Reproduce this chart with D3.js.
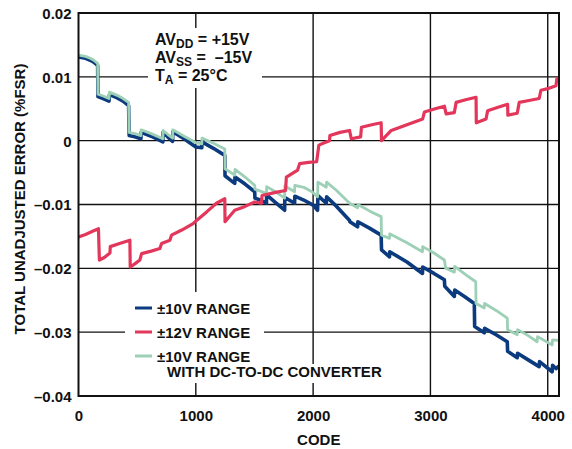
<!DOCTYPE html>
<html><head><meta charset="utf-8">
<script src="https://cdn.jsdelivr.net/npm/d3@7"></script>
<style>
html,body{margin:0;padding:0;background:#fff;}
text{font-family:"Liberation Sans",Arial,Helvetica,sans-serif;font-weight:bold;fill:#111;}
</style></head>
<body><svg id="c" width="572" height="449"></svg>
<script>
const xTicks = [0, 1000, 2000, 3000, 4000];
const yTicks = [0.02, 0.01, 0, -0.01, -0.02, -0.03, -0.04];
const yTickLabels = ["0.02", "0.01", "0", "\u20130.01", "\u20130.02", "\u20130.03", "\u20130.04"];
const legendLabels = ["\u00b110V RANGE", "\u00b112V RANGE", "\u00b110V RANGE"];
const legendExtra = "WITH DC-TO-DC CONVERTER";
const seriesColors = ["#0c3a7e", "#e3365b", "#9dd0b6"];

const range10 = [[0,0.0131],[60,0.0129],[100,0.0126],[130,0.0123],[163,0.0118],
[166,0.0069],[210,0.0066],[260,0.0062],
[264,0.0072],[330,0.0067],[380,0.0062],[427,0.0055],
[432,0.0008],[480,0.0006],[532,0.0003],
[534,0.0013],[620,0.0007],[719,-0.0002],
[721,0.0013],[760,0.0006],[802,-0.0001],
[804,0.0014],[900,0.0003],[1000,-0.0010],[1051,-0.0011],
[1053,-0.0002],[1150,-0.0012],[1247,-0.0023],
[1249,-0.0055],[1290,-0.0061],[1332,-0.0067],
[1334,-0.0057],[1420,-0.0068],[1502,-0.0080],
[1504,-0.0090],[1550,-0.0093],[1602,-0.0098],
[1604,-0.0085],[1680,-0.0097],[1757,-0.0109],
[1759,-0.0089],[1842,-0.0098],
[1844,-0.0087],[1920,-0.0093],[2000,-0.0101],[2038,-0.0109],
[2041,-0.0086],[2112,-0.0098],
[2115,-0.0088],[2200,-0.0103],[2311,-0.0125],
[2313,-0.0127],[2379,-0.0135],
[2381,-0.0127],[2480,-0.0137],[2580,-0.0148],
[2583,-0.0171],[2651,-0.0182],
[2653,-0.0174],[2800,-0.0190],[2932,-0.0208],
[2934,-0.0198],[3030,-0.0208],[3119,-0.0218],
[3122,-0.0228],[3204,-0.0244],
[3207,-0.0234],[3290,-0.0244],[3374,-0.0255],
[3377,-0.0291],[3459,-0.0301],
[3462,-0.0294],[3560,-0.0304],[3655,-0.0315],
[3658,-0.0330],[3740,-0.0340],
[3743,-0.0333],[3830,-0.0343],[3927,-0.0354],
[3930,-0.0346],[4038,-0.0362],
[4041,-0.0352],[4070,-0.0357],[4095,-0.0353]];

const range12 = [[0,-0.0151],[60,-0.0147],[120,-0.0142],[170,-0.0138],
[178,-0.0187],[220,-0.0183],[268,-0.0176],
[271,-0.0166],[350,-0.0161],[438,-0.0156],
[441,-0.0198],[480,-0.0193],[523,-0.0187],
[538,-0.0177],[620,-0.0173],[694,-0.0169],
[708,-0.0161],[779,-0.0156],
[793,-0.0148],[880,-0.0140],[977,-0.0130],
[1006,-0.0125],[1090,-0.0112],[1176,-0.0098],[1247,-0.0091],
[1249,-0.0127],[1290,-0.0118],[1332,-0.0109],
[1420,-0.0103],[1502,-0.0096],[1559,-0.0098],
[1565,-0.0086],[1680,-0.0081],[1765,-0.0078],
[1772,-0.0057],[1868,-0.0046],
[1885,-0.0036],[1960,-0.0034],[2030,-0.0033],
[2049,-0.0007],[2100,-0.0003],[2140,0.0000],
[2143,0.0008],[2230,0.0013],[2311,0.0016],
[2325,0.0003],[2405,0.0006],
[2412,0.0021],[2500,0.0025],[2580,0.0028],
[2583,0.0000],[2666,0.0016],[2800,0.0025],[2934,0.0034],
[2949,0.0045],[3040,0.0050],[3119,0.0054],
[3134,0.0042],[3204,0.0044],
[3219,0.0060],[3300,0.0064],[3389,0.0068],
[3391,0.0028],[3474,0.0034],
[3488,0.0047],[3570,0.0052],[3658,0.0057],
[3660,0.0040],[3740,0.0043],
[3757,0.0060],[3840,0.0063],[3927,0.0066],
[3942,0.0079],[4010,0.0082],[4070,0.0086],
[4078,0.0097],[4095,0.0098]];

const range10dc = [[0,0.0134],[60,0.0132],[100,0.0129],[130,0.0126],[163,0.0121],
[166,0.0073],[210,0.0070],[260,0.0066],
[264,0.0076],[330,0.0071],[380,0.0066],[427,0.0060],
[432,0.0013],[480,0.0011],[532,0.0008],
[534,0.0017],[620,0.0011],[719,0.0003],
[721,0.0016],[760,0.0010],[802,0.0004],
[804,0.0017],[900,0.0007],[1000,-0.0003],[1051,-0.0005],
[1053,0.0004],[1150,-0.0004],[1247,-0.0013],
[1249,-0.0044],[1290,-0.0049],[1332,-0.0054],
[1334,-0.0045],[1420,-0.0057],[1502,-0.0070],
[1504,-0.0076],[1550,-0.0079],[1602,-0.0083],
[1604,-0.0072],[1680,-0.0080],[1757,-0.0090],
[1759,-0.0071],[1842,-0.0080],
[1844,-0.0070],[1920,-0.0073],[1990,-0.0080],[2038,-0.0088],
[2041,-0.0065],[2112,-0.0073],
[2115,-0.0065],[2200,-0.0078],[2311,-0.0098],
[2379,-0.0105],[2381,-0.0100],[2480,-0.0110],[2580,-0.0119],
[2583,-0.0148],[2651,-0.0153],
[2653,-0.0146],[2800,-0.0160],[2932,-0.0174],
[2934,-0.0166],[3030,-0.0176],[3119,-0.0187],
[3130,-0.0200],[3204,-0.0206],
[3207,-0.0197],[3300,-0.0210],[3386,-0.0221],
[3389,-0.0255],[3459,-0.0262],
[3462,-0.0255],[3560,-0.0266],[3655,-0.0278],
[3658,-0.0296],[3740,-0.0304],
[3743,-0.0296],[3830,-0.0305],[3910,-0.0315],
[3913,-0.0307],[4038,-0.0320],
[4041,-0.0312],[4095,-0.0313]];

const svg = d3.select("#c");
const L = 78.5, R = 559, T = 13, B = 396;
const x = d3.scaleLinear().domain([0, 4096]).range([L, R]);
const y = d3.scaleLinear().domain([-0.04, 0.02]).range([B, T]);

// gridlines
const grid = svg.append("g").attr("stroke", "#111").attr("stroke-width", 1.4);
grid.selectAll(".gx").data(xTicks.slice(1)).join("line")
  .attr("x1", d => x(d)).attr("x2", d => x(d)).attr("y1", T).attr("y2", B);
grid.selectAll(".gy").data(yTicks.slice(1, -1)).join("line")
  .attr("x1", L).attr("x2", R).attr("y1", d => y(d)).attr("y2", d => y(d));

// axes tick labels via d3 axes
const yAxis = d3.axisLeft(y).tickValues(yTicks).tickSize(0).tickPadding(7)
  .tickFormat((d, i) => yTickLabels[i]);
const gy = svg.append("g").attr("transform", `translate(${L},0)`).call(yAxis);
gy.select(".domain").remove();
gy.selectAll("text").style("font-size", "15px").attr("dy", "0.36em")
  .style("font-family", '"Liberation Sans",Arial,sans-serif').style("font-weight", "bold").attr("fill", "#111");

const xAxis = d3.axisBottom(x).tickValues(xTicks).tickSize(0).tickPadding(14)
  .tickFormat(d3.format("d"));
const gx = svg.append("g").attr("transform", `translate(0,${B})`).call(xAxis);
gx.select(".domain").remove();
gx.selectAll("text").style("font-size", "15px")
  .style("font-family", '"Liberation Sans",Arial,sans-serif').style("font-weight", "bold").attr("fill", "#111");

// white boxes behind annotation & legend
svg.append("rect").attr("x", 148).attr("y", 28).attr("width", 114).attr("height", 60).attr("fill", "#fff");
svg.append("rect").attr("x", 125).attr("y", 292).attr("width", 139).attr("height", 73).attr("fill", "#fff");
svg.append("rect").attr("x", 160).attr("y", 364).attr("width", 240).attr("height", 19).attr("fill", "#fff");

// lines
const line = d3.line().x(d => x(d[0])).y(d => y(d[1]));
const seriesList = [range10, range10dc, range12];
const colorList = [seriesColors[0], seriesColors[2], seriesColors[1]];
const widthList = [3.6, 2.8, 3.2];
svg.append("g").selectAll("path").data(seriesList).join("path")
  .attr("d", line).attr("fill", "none")
  .attr("stroke", (d, i) => colorList[i]).attr("stroke-width", (d, i) => widthList[i])
  .attr("stroke-linejoin", "round");

// frame
svg.append("rect").attr("x", L).attr("y", T).attr("width", R - L).attr("height", B - T)
  .attr("fill", "none").attr("stroke", "#111").attr("stroke-width", 2);

// axis titles
svg.append("text").attr("x", (L + R) / 2).attr("y", 445).attr("text-anchor", "middle")
  .style("font-size", "15px").text("CODE");
svg.append("text").attr("transform", "translate(25,199) rotate(-90)").attr("text-anchor", "middle")
  .style("font-size", "15px").text("TOTAL UNADJUSTED ERROR (%FSR)");

// annotation
const ann = svg.append("g").style("font-size", "16px");
function annRow(yy, main, sub, rest) {
  const t = ann.append("text").attr("x", 155).attr("y", yy).attr("xml:space", "preserve");
  t.append("tspan").text(main);
  t.append("tspan").attr("dy", 3).style("font-size", "12px").text(sub);
  t.append("tspan").attr("dy", -3).text(rest);
}
annRow(44.5, "AV", "DD", " = +15V");
annRow(62.5, "AV", "SS", " =  \u201315V");
annRow(81, "T", "A", " = 25\u00b0C");

// legend
const legY = [308, 332, 356];
const legColors = [seriesColors[0], seriesColors[1], seriesColors[2]];
const lg = svg.append("g");
lg.selectAll("line").data(legendLabels).join("line")
  .attr("x1", 135).attr("x2", 152).attr("y1", (d, i) => legY[i]).attr("y2", (d, i) => legY[i])
  .attr("stroke", (d, i) => legColors[i]).attr("stroke-width", 3);
lg.selectAll("text").data(legendLabels).join("text")
  .attr("x", 157).attr("y", (d, i) => legY[i] + 5.5).style("font-size", "15px").text(d => d);
lg.append("text").attr("x", 167).attr("y", 377).style("font-size", "15px").text(legendExtra);
</script></body></html>
